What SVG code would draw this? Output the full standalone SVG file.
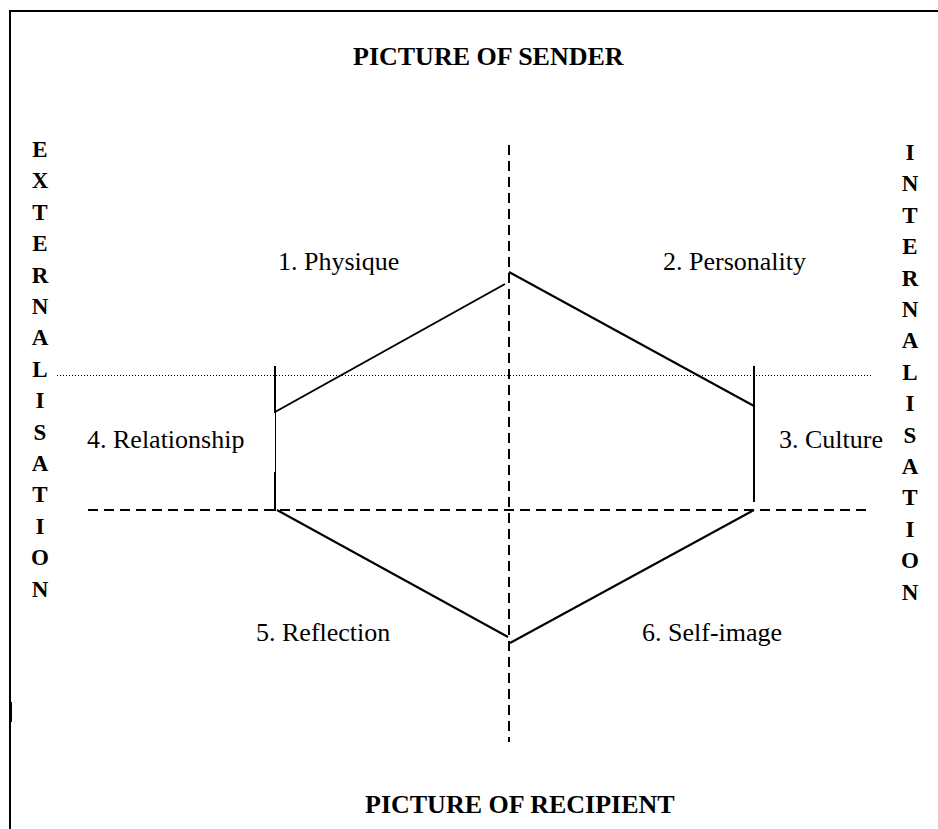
<svg xmlns="http://www.w3.org/2000/svg" width="938" height="829" viewBox="0 0 938 829">
  <style>
    .title { font-family: "Liberation Serif", "Times New Roman", serif; font-size: 26px; font-weight: bold; fill: #000; }
    .label { font-family: "Liberation Serif", "Times New Roman", serif; font-size: 26px; fill: #000; }
    .side { font-family: "Liberation Serif", "Times New Roman", serif; font-size: 23px; font-weight: bold; fill: #000; text-anchor: middle; }
    .frame { stroke: #000; stroke-width: 2; fill: none; }
    .edge { stroke: #000; stroke-width: 2; fill: none; }
    .thin { stroke: #000; stroke-width: 1; fill: none; }
    .dash { stroke: #000; stroke-width: 2; stroke-dasharray: 10 6; fill: none; }
    .dot { stroke: #000; stroke-width: 1; stroke-dasharray: 1 2; fill: none; }
  </style>
  <rect width="938" height="829" fill="#fff"/>

  <!-- page frame (open on the right and bottom) -->
  <g id="frame">
    <path class="frame" d="M10 829 V11 H938"/>
    <rect x="9" y="702" width="3" height="20" fill="#000"/>
  </g>

  <!-- headings -->
  <g id="sender">
    <text class="title" x="353" y="65">PICTURE OF SENDER</text>
  </g>
  <g id="recipient">
    <text class="title" x="365" y="813">PICTURE OF RECIPIENT</text>
  </g>

  <!-- vertical side captions -->
  <g id="externalisation" class="side">
    <text x="40" y="157">E</text>
    <text x="40" y="188.4">X</text>
    <text x="40" y="219.8">T</text>
    <text x="40" y="251.2">E</text>
    <text x="40" y="282.6">R</text>
    <text x="40" y="314">N</text>
    <text x="40" y="345.4">A</text>
    <text x="40" y="376.8">L</text>
    <text x="40" y="408.2">I</text>
    <text x="40" y="439.6">S</text>
    <text x="40" y="471">A</text>
    <text x="40" y="502.4">T</text>
    <text x="40" y="533.8">I</text>
    <text x="40" y="565.2">O</text>
    <text x="40" y="596.6">N</text>
  </g>
  <g id="internalisation" class="side">
    <text x="910" y="160">I</text>
    <text x="910" y="191.4">N</text>
    <text x="910" y="222.8">T</text>
    <text x="910" y="254.2">E</text>
    <text x="910" y="285.6">R</text>
    <text x="910" y="317">N</text>
    <text x="910" y="348.4">A</text>
    <text x="910" y="379.8">L</text>
    <text x="910" y="411.2">I</text>
    <text x="910" y="442.6">S</text>
    <text x="910" y="474">A</text>
    <text x="910" y="505.4">T</text>
    <text x="910" y="536.8">I</text>
    <text x="910" y="568.2">O</text>
    <text x="910" y="599.6">N</text>
  </g>

  <!-- segment labels -->
  <g id="physique"><text class="label" x="278" y="270">1. Physique</text></g>
  <g id="personality"><text class="label" x="663" y="270">2. Personality</text></g>
  <g id="culture"><text class="label" x="779" y="448">3. Culture</text></g>
  <g id="relationship"><text class="label" x="87" y="448">4. Relationship</text></g>
  <g id="reflection"><text class="label" x="256" y="641">5. Reflection</text></g>
  <g id="self-image"><text class="label" x="642" y="641">6. Self-image</text></g>

  <!-- axes and hexagon outline -->
  <g id="connectors">
    <line class="dash" x1="509" y1="145" x2="509" y2="742"/>
    <line class="dash" x1="88" y1="510" x2="869" y2="510"/>
    <line class="dot" x1="57" y1="375.5" x2="872" y2="375.5"/>

    <line class="edge" x1="275" y1="366" x2="275" y2="413"/>
    <line class="thin" x1="275.5" y1="412" x2="275.5" y2="472"/>
    <line class="edge" x1="275" y1="472" x2="275" y2="511"/>
    <line class="edge" x1="275" y1="412" x2="505" y2="284"/>
    <line class="edge" x1="509" y1="272" x2="754" y2="406"/>
    <line class="edge" x1="754" y1="366" x2="754" y2="502"/>
    <line class="edge" x1="277" y1="510" x2="508" y2="637"/>
    <line class="edge" x1="754" y1="510" x2="510" y2="643"/>
  </g>
</svg>
